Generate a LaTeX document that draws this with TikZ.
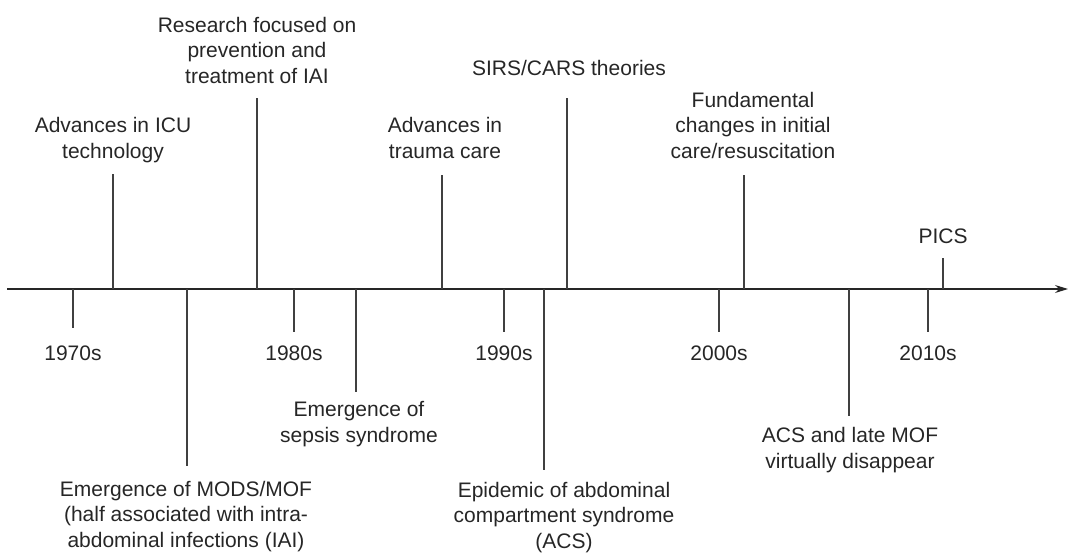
\documentclass[tikz,border=0pt]{standalone}
\usepackage{fontspec}
\setmainfont{Liberation Sans}
\usetikzlibrary{arrows.meta}
\begin{document}
\begin{tikzpicture}[x=1pt,y=-1pt,
  lbl/.style={font=\fontsize{21}{25.5}\selectfont, align=center, inner sep=0pt, anchor=base, text=black!85},
  tickline/.style={line width=1.1pt, draw=black!75},
  axisline/.style={line width=1.2pt, draw=black!85, -{Stealth[length=13pt,width=8pt]}}]
\useasboundingbox (0,0) rectangle (1074,554);
% axis
\coordinate (a0) at (7,289);
\coordinate (a1) at (1068,289);
\draw[axisline] (a0) -- (a1);
% axis points and tick ends
\coordinate (p70) at (73,289);   \coordinate (e70) at (73,328);
\coordinate (p80) at (294,289);  \coordinate (e80) at (294,332);
\coordinate (p90) at (504,289);  \coordinate (e90) at (504,332);
\coordinate (p00) at (719,289);  \coordinate (e00) at (719,332);
\coordinate (p10) at (928,289);  \coordinate (e10) at (928,332);
\coordinate (picu) at (113,289); \coordinate (eicu) at (113,174);
\coordinate (pres) at (257,289); \coordinate (eres) at (257,98);
\coordinate (ptra) at (442,289); \coordinate (etra) at (442,175);
\coordinate (psir) at (567,289); \coordinate (esir) at (567,98);
\coordinate (pfun) at (744,289); \coordinate (efun) at (744,175);
\coordinate (ppic) at (943,289); \coordinate (epic) at (943,258);
\coordinate (pmod) at (187,289); \coordinate (emod) at (187,466);
\coordinate (psep) at (356,289); \coordinate (esep) at (356,392);
\coordinate (pepi) at (544,289); \coordinate (eepi) at (544,470);
\coordinate (pacs) at (849,289); \coordinate (eacs) at (849,416);
% ticks
\foreach \t in {70,80,90,00,10,icu,res,tra,sir,fun,pic,mod,sep,epi,acs}
  \draw[tickline] (p\t) -- (e\t);
% labels above (anchor = baseline of last line)
\node[lbl] (ticu) at (113,158) {Advances in ICU\\technology};
\node[lbl] (tres) at (257,83) {Research focused on\\prevention and\\treatment of IAI};
\node[lbl] (tsir) at (569,75) {SIRS/CARS theories};
\node[lbl] (ttra) at (445,158) {Advances in\\trauma care};
\node[lbl] (tfun) at (753,158) {Fundamental\\changes in initial\\care/resuscitation};
\node[lbl] (tpic) at (943,243) {PICS};
% years
\node[lbl] (t70) at (73,360) {1970s};
\node[lbl] (t80) at (294,360) {1980s};
\node[lbl] (t90) at (504,360) {1990s};
\node[lbl] (t00) at (719,360) {2000s};
\node[lbl] (t10) at (928,360) {2010s};
% labels below
\node[lbl] (tsep) at (359,442) {Emergence of\\sepsis syndrome};
\node[lbl] (tmod) at (186,547) {Emergence of MODS/MOF\\(half associated with intra-\\abdominal infections (IAI)};
\node[lbl] (tepi) at (564,548) {Epidemic of abdominal\\compartment syndrome\\(ACS)};
\node[lbl] (tacs) at (850,468) {ACS and late MOF\\virtually disappear};
\end{tikzpicture}
\end{document}
